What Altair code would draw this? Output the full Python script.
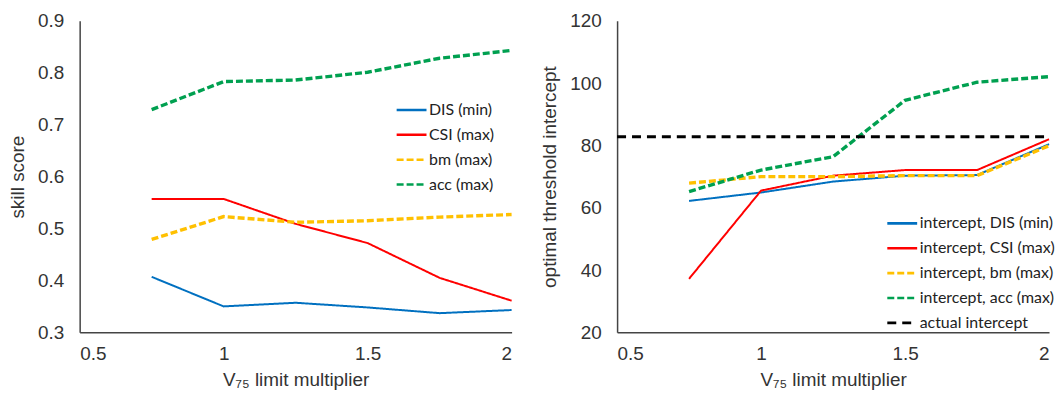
import altair as alt
import pandas as pd

multiplier = [0.75, 1.0, 1.25, 1.5, 1.75, 2.0]

skill_dis = [0.407, 0.350, 0.357, 0.348, 0.337, 0.343]
skill_csi = [0.557, 0.557, 0.509, 0.472, 0.405, 0.361]
skill_bm = [0.479, 0.523, 0.512, 0.515, 0.522, 0.527]
skill_acc = [0.729, 0.783, 0.786, 0.801, 0.828, 0.843]

int_dis = [62.2, 64.9, 68.4, 70.3, 70.5, 80.4]
int_csi = [37.2, 65.5, 70.3, 72.1, 72.1, 82.0]
int_bm = [67.9, 70.0, 70.0, 70.3, 70.3, 79.9]
int_acc = [65.2, 72.1, 76.4, 94.5, 100.3, 102.1]
actual_x = [0.5, 2.0]
actual_y = [82.8, 82.8]

left_names = ["DIS (min)", "CSI (max)", "bm (max)", "acc (max)"]
right_names = ["intercept, DIS (min)", "intercept, CSI (max)", "intercept, bm (max)",
               "intercept, acc (max)", "actual intercept"]
colors = ["#0070C0", "#FF0000", "#FFC000", "#00A050", "#000000"]
dashes = [[1, 0], [1, 0], [7, 3], [7, 3], [9, 6]]
kinds = ["solid", "solid", "dash", "dash", "black"]

rows = []
for name, kind, vals in zip(left_names, kinds, [skill_dis, skill_csi, skill_bm, skill_acc]):
    for x, v in zip(multiplier, vals):
        rows.append({"x": x, "y": v, "series": name, "kind": kind})
left_df = pd.DataFrame(rows)

rows = []
for name, kind, vals in zip(right_names[:4], kinds, [int_dis, int_csi, int_bm, int_acc]):
    for x, v in zip(multiplier, vals):
        rows.append({"x": x, "y": v, "series": name, "kind": kind})
for x, v in zip(actual_x, actual_y):
    rows.append({"x": x, "y": v, "series": right_names[4], "kind": kinds[4]})
right_df = pd.DataFrame(rows)

AX = "Liberation Sans"
LG = "Lato"
WIDTH_OF = {"solid": 2.0, "dash": 3.4, "black": 2.8}


def xaxis():
    return alt.X("x:Q", scale=alt.Scale(domain=[0.5, 2], nice=False),
                 axis=alt.Axis(values=[0.5, 1, 1.5, 2], format="~g",
                               title="V₇₅ limit multiplier", grid=False, ticks=False,
                               labelPadding=12, titlePadding=7))


def legend(x, y):
    return alt.Legend(title=None, orient="none", legendX=x, legendY=y,
                      symbolType="stroke", symbolSize=900, labelFont=LG,
                      labelFontSize=16, labelColor="#222222", labelOffset=1,
                      rowPadding=0, symbolStrokeWidth=2.6)


def panel(df, names, yaxis, lx, ly):
    n = len(names)
    base = alt.Chart(df).encode(
        x=xaxis(),
        y=yaxis,
        color=alt.Color("series:N", scale=alt.Scale(domain=names, range=colors[:n]),
                        legend=legend(lx, ly)),
        strokeDash=alt.StrokeDash("series:N", scale=alt.Scale(domain=names, range=dashes[:n]),
                                  legend=legend(lx, ly)),
    )
    layers = []
    for kind in ["solid", "dash", "black"]:
        if kind in set(df["kind"]):
            layers.append(
                base.transform_filter(alt.datum.kind == kind)
                .mark_line(strokeWidth=WIDTH_OF[kind], strokeCap="butt")
            )
    return alt.layer(*layers).properties(width=434, height=313)


left = panel(
    left_df, left_names,
    alt.Y("y:Q", scale=alt.Scale(domain=[0.3, 0.9], nice=False),
          axis=alt.Axis(values=[0.3, 0.4, 0.5, 0.6, 0.7, 0.8, 0.9], format=".1f",
                        title="skill score", grid=False, ticks=False,
                        labelPadding=16, titlePadding=10)),
    317, 73,
)

right = panel(
    right_df, right_names,
    alt.Y("y:Q", scale=alt.Scale(domain=[20, 120], nice=False),
          axis=alt.Axis(values=[20, 40, 60, 80, 100, 120],
                        title="optimal threshold intercept", grid=False, ticks=False,
                        labelPadding=16, titlePadding=10)),
    270, 187,
)

chart = alt.hconcat(left, right, spacing=22).resolve_scale(
    color="independent", strokeDash="independent"
).resolve_legend(
    color="independent", strokeDash="independent"
).configure_axis(
    labelFont=AX, labelFontSize=19, labelColor="#333333",
    titleFont=AX, titleFontSize=19, titleFontWeight="normal", titleColor="#333333",
    domainColor="#444444", domainWidth=1.5,
).configure_view(stroke=None).properties(
    padding={"left": 0, "top": 3, "right": 0, "bottom": 0},
    background="white",
)

chart.save("out.html", embed_options={"renderer": "svg", "actions": False})
